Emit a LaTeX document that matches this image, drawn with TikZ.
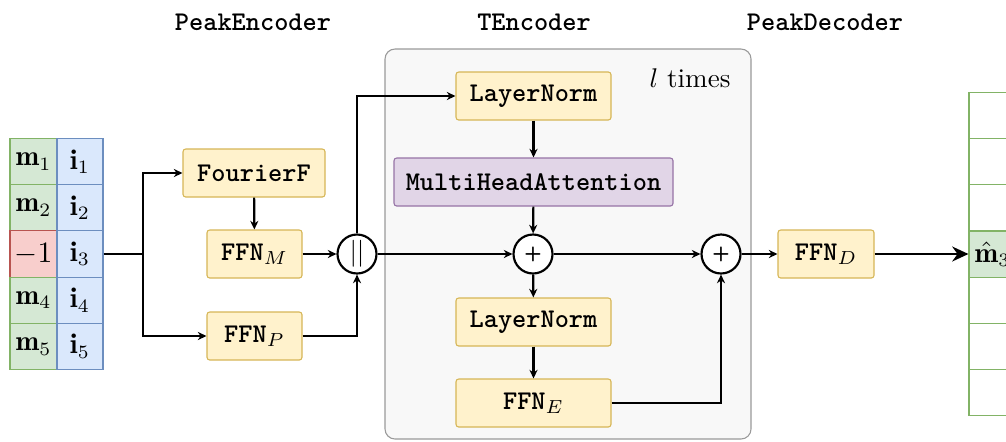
\documentclass[tikz,border=0pt]{standalone}
\usepackage{fontspec}
\usetikzlibrary{arrows.meta}
\definecolor{ylwfill}{HTML}{FFF2CC}
\definecolor{ylwline}{HTML}{D6B656}
\definecolor{grnfill}{HTML}{D5E8D4}
\definecolor{grnline}{HTML}{82B366}
\definecolor{blufill}{HTML}{DAE8FC}
\definecolor{bluline}{HTML}{6C8EBF}
\definecolor{redfill}{HTML}{F8CECC}
\definecolor{redline}{HTML}{B85450}
\definecolor{purfill}{HTML}{E1D5E7}
\definecolor{purline}{HTML}{9673A6}
\definecolor{encfill}{HTML}{F8F8F8}
\definecolor{encline}{HTML}{9A9A9A}
\newcommand{\pxu}{0.37pt}
\newcommand{\tn}[1]{{\fontsize{10}{12}\selectfont\ttfamily\bfseries #1}}
\tikzset{
	blk/.style 2 args={draw=ylwline,fill=ylwfill,rounded corners=1pt,thin,minimum width=#1*\pxu,minimum height=#2*\pxu,inner sep=0pt,font=\fontsize{10.5}{12}\selectfont},
	attn/.style={blk={279}{48},draw=purline,fill=purfill},
	cell/.style={draw,thin,minimum width=47*\pxu,minimum height=46.2*\pxu,inner sep=0pt,font=\fontsize{10.5}{12}\selectfont},
	mcell/.style={cell,draw=grnline,fill=grnfill},
	redcell/.style={cell,draw=redline,fill=redfill},
	icell/.style={cell,draw=bluline,fill=blufill,minimum width=46*\pxu},
	op/.style={circle,draw,thick,fill=white,minimum size=39*\pxu,inner sep=0pt},
	plus/.style={op,font=\fontsize{7.5}{8}\selectfont\sffamily\bfseries},
	head/.style={font=\fontsize{10}{12}\selectfont\ttfamily\bfseries}
}
\begin{document}
\begin{tikzpicture}[x=0.37pt,y=-0.37pt,thick,>={Stealth[length=3.2pt,width=3pt]}]
	\clip(0,0)rectangle(1006,441);
	% encoder block
	\draw[thin,draw=encline,fill=encfill,rounded corners=3.7pt](385,49)rectangle(751,439);
	\node[head] (hpe) at (253,22) {PeakEncoder};
	\node[head] (hte) at (534,22) {TEncoder};
	\node[head] (hpd) at (825,22) {PeakDecoder};
	\node (ltimes) at (690,78) {$l$ times};
	% input peaks
	\foreach \k/\lab/\sty in {1/{\mathbf{m}_1}/mcell,2/{\mathbf{m}_2}/mcell,3/{-1}/redcell,4/{\mathbf{m}_4}/mcell,5/{\mathbf{m}_5}/mcell}{
		\node[\sty] (m\k) at (33.5,{254+46.2*(\k-3)}) {$\lab$};
		\node[icell] (i\k) at (80,{254+46.2*(\k-3)}) {$\mathbf{i}_\k$};
	}
	\coordinate (br) at (143,254);
	\node[blk={142}{48}] (fourier) at (254,173) {\tn{FourierF}};
	\node[blk={95}{48}] (ffnm) at (254.5,254) {\tn{FFN}$_M$};
	\node[blk={95}{48}] (ffnp) at (254.5,336) {\tn{FFN}$_P$};
	\node[op] (cat) at (357,254) {$||$};
	% transformer layer
	\node[blk={155}{48}] (ln1) at (533.5,96) {\tn{LayerNorm}};
	\node[attn] (mha) at (533.5,182) {\tn{MultiHeadAttention}};
	\node[plus] (add1) at (533,254) {+};
	\node[blk={155}{48}] (ln2) at (533.5,322) {\tn{LayerNorm}};
	\node[blk={155}{48}] (ffne) at (533.5,403) {\tn{FFN}$_E$};
	\node[plus] (add2) at (721,254) {+};
	\node[blk={96}{48}] (ffnd) at (826,254) {\tn{FFN}$_D$};
	% output peaks
	\foreach \k in {1,2,3,5,6,7}{
		\node[cell,draw=grnline,fill=white,minimum height=46.1*\pxu] (o\k) at (992.5,{254+46.1*(\k-4)}) {};
	}
	\node[mcell,minimum height=46.1*\pxu] (o4) at (992.5,254) {$\hat{\mathbf{m}}_3$};
	% connectors
	\draw (i3.east)--(br);
	\draw[->] (br)|-(fourier.west);
	\draw[->] (br)|-(ffnp.west);
	\draw[->] (fourier)--(ffnm);
	\draw[->] (ffnm)--(cat);
	\draw[->] (ffnp.east)-|(cat.south);
	\draw[->] (cat.north)|-(ln1.west);
	\draw[->] (ln1)--(mha);
	\draw[->] (mha)--(add1);
	\draw[->] (cat)--(add1);
	\draw[->] (add1)--(ln2);
	\draw[->] (ln2)--(ffne);
	\draw[->] (ffne.east)-|(add2.south);
	\draw[->] (add1)--(add2);
	\draw[->] (add2)--(ffnd);
	\draw[-{Stealth[length=6pt,width=5.5pt]},line width=1.1pt] (ffnd)--(o4.west);
\end{tikzpicture}
\end{document}
